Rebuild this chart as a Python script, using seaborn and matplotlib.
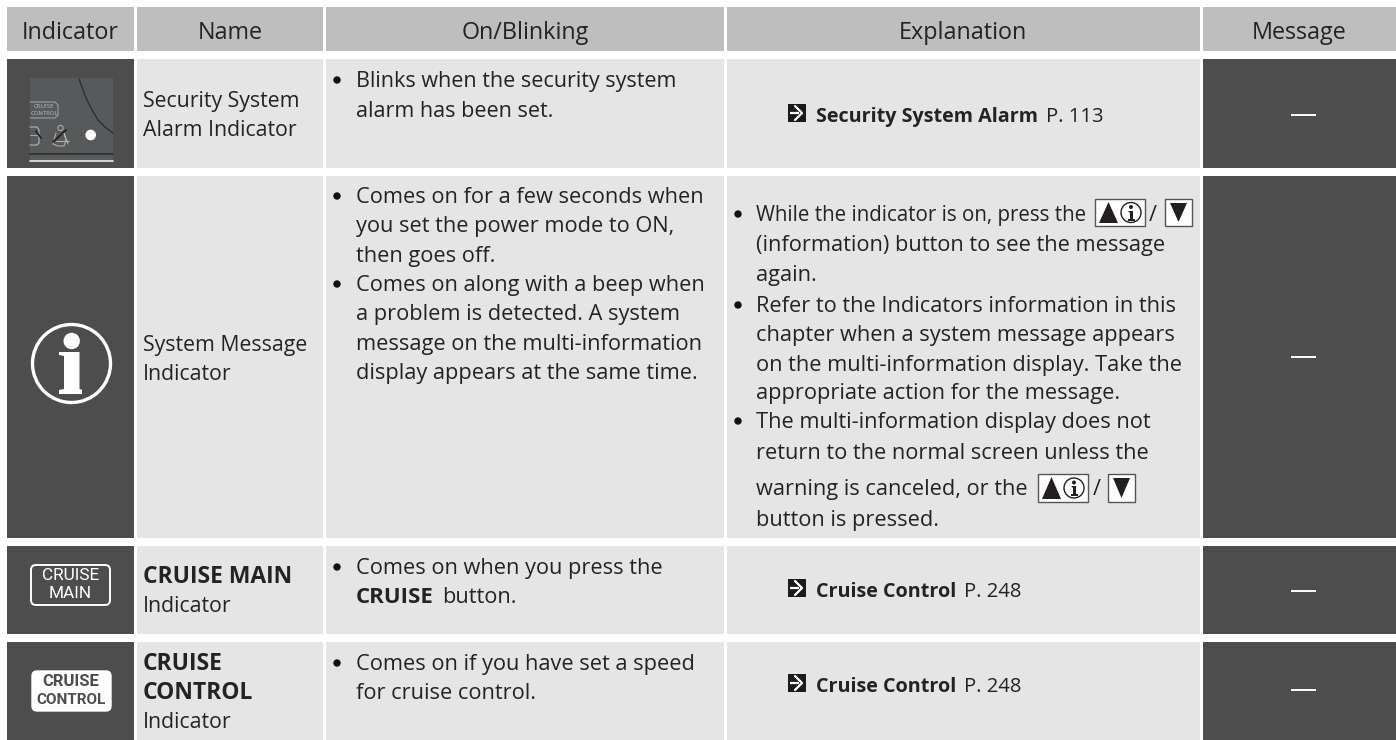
import numpy as np
import matplotlib
matplotlib.use("Agg")
import matplotlib.pyplot as plt
from matplotlib.colors import ListedColormap
from matplotlib.patches import Rectangle, Circle, FancyBboxPatch, Polygon
import seaborn as sns

# Table content
header_labels = ["Indicator", "Name", "On/Blinking", "Explanation", "Message"]
name_lines = [
    [("Security System", False), ("Alarm Indicator", False)],
    [("System Message", False), ("Indicator", False)],
    [("CRUISE MAIN", True), ("Indicator", False)],
    [("CRUISE", True), ("CONTROL", True), ("Indicator", False)],
]
blink_row1 = ["Blinks when the security system", "alarm has been set."]
blink_row2a = ["Comes on for a few seconds when", "you set the power mode to ON,", "then goes off."]
blink_row2b = ["Comes on along with a beep when", "a problem is detected. A system",
              "message on the multi-information", "display appears at the same time."]
blink_row4 = ["Comes on if you have set a speed", "for cruise control."]
expl_a = ["(information) button to see the message", "again."]
expl_b = ["Refer to the Indicators information in this", "chapter when a system message appears",
          "on the multi-information display. Take the", "appropriate action for the message."]
expl_c = ["The multi-information display does not", "return to the normal screen unless the",
          "warning is canceled, or the", "button is pressed."]
links = [("Security System Alarm", "P. 113"), ("Cruise Control", "P. 248"), ("Cruise Control", "P. 248")]

# Cell shades of the table (0 white gap, 1 header, 2 light, 3 dark)
col_widths = [7, 127, 3, 186, 3, 398, 3, 473, 3, 193]
row_heights = [7, 44, 8, 109, 8, 362, 8, 88, 8, 98]
body_row = [0, 3, 0, 2, 0, 2, 0, 2, 0, 3]
head_row = [0, 1, 0, 1, 0, 1, 0, 1, 0, 1]
gap_row = [0] * 10
shades = np.array([gap_row, head_row, gap_row, body_row, gap_row, body_row,
                   gap_row, body_row, gap_row, body_row])
grid = np.repeat(np.repeat(shades, row_heights, axis=0), col_widths, axis=1)

TXT = "#242223"
DARK = "#4d4d4d"
FONT = "Open Sans"

sns.set_theme(style="white")
plt.rcParams["font.family"] = [FONT, "DejaVu Sans"]

fig = plt.figure(figsize=(13.96, 7.40), dpi=100)
ax = fig.add_axes([0, 0, 1, 1])
sns.heatmap(grid, ax=ax, cmap=ListedColormap(["#ffffff", "#bebebe", "#e5e5e5", DARK]),
            vmin=0, vmax=3, cbar=False, xticklabels=False, yticklabels=False)
ax.set_xlim(0, 1396)
ax.set_ylim(740, 0)
ax.axis("off")


def put(x, y, s, bold=False, ha="left", size=15.7, color=TXT):
    return ax.text(x, y, s, ha=ha, va="baseline", fontsize=size, color=color,
                   fontweight="bold" if bold else "normal")


def bullet(x, y):
    ax.add_patch(Circle((x, y), 3.7, color="#111111", lw=0))


def link(x, y, bold_part, rest):
    # black square with white arrow, then the bold reference and the page
    ax.add_patch(Rectangle((x, y - 9), 18, 18, color="#1c1a1b", lw=0))
    ax.plot([x + 2, x + 11], [y, y], color="white", lw=1.6, solid_capstyle="butt")
    ax.plot([x + 7, x + 14, x + 7], [y - 7, y, y + 7], color="white", lw=1.6)
    t = put(x + 28, y + 9, bold_part, bold=True, size=14.2)
    fig.canvas.draw()
    end = t.get_window_extent().x1
    put(end + 8, y + 9, rest, size=14.6)


def button_up(x, y0, y1):
    ax.add_patch(Rectangle((x, y0), 50, y1 - y0, fc="white", ec="#555555", lw=1))
    ax.add_patch(Polygon([[x + 4, y1 - 3], [x + 23, y1 - 3], [x + 13.5, y0 + 3]], color="#231f20", lw=0))
    cx, cy = x + 36, (y0 + y1) / 2
    ax.add_patch(Circle((cx, cy), 10, fc="white", ec="#231f20", lw=1))
    ax.add_patch(Circle((cx, cy - 5.5), 2, color="#231f20", lw=0))
    ax.add_patch(Polygon([[cx - 3, cy - 2], [cx + 2, cy - 2], [cx + 2, cy + 6], [cx + 3.5, cy + 6],
                          [cx + 3.5, cy + 8], [cx - 3.5, cy + 8], [cx - 3.5, cy + 6], [cx - 1.5, cy + 6],
                          [cx - 1.5, cy]], color="#231f20", lw=0))


def button_down(x, y0, y1):
    ax.add_patch(Rectangle((x, y0), 27, y1 - y0, fc="white", ec="#555555", lw=1))
    ax.add_patch(Polygon([[x + 5, y0 + 4], [x + 22, y0 + 4], [x + 13.5, y1 - 4]], color="#231f20", lw=0))


# Header
for label, cx in zip(header_labels, [70.5, 230, 525, 963, 1299.5]):
    put(cx, 39, label, ha="center", size=16.8)

# Name column
name_ys = [[107, 136], [351, 380], [583, 612], [670, 699, 728]]
for lines, ys in zip(name_lines, name_ys):
    for (s, bold), y in zip(lines, ys):
        put(143, y, s, bold=bold, size=16.5 if bold else 15.3)

# On/Blinking column
put(356, 87, blink_row1[0], size=15.5)
put(356, 117, blink_row1[1], size=15.5)
bullet(337, 80)
for y, s in zip([203, 232, 262], blink_row2a):
    put(356, y, s)
bullet(337, 196)
for y, s in zip([291, 320, 350, 379], blink_row2b):
    put(356, y, s)
bullet(337, 284)
put(356, 574, "Comes on when you press the")
t = put(356, 603, "CRUISE", bold=True, size=16)
fig.canvas.draw()
put(t.get_window_extent().x1 + 8, 603, "button.")
bullet(337, 567)
for y, s in zip([670, 699], blink_row4):
    put(356, y, s)
bullet(337, 663)

# Explanation column
put(756, 221, "While the indicator is on, press the", size=14.8)
bullet(738, 214)
for y, s in zip([251, 281], expl_a):
    put(756, y, s, size=15.65)
for y, s in zip([312, 341, 371, 399], expl_b):
    put(756, y, s, size=15.65)
bullet(738, 305)
for y, s in zip([428, 459, 495, 526], expl_c):
    put(756, y, s, size=15.65)
bullet(738, 421)
for y, (b, r) in zip([113, 588, 683], links):
    link(788, y, b, r)

# inline button glyphs
button_up(1095, 199, 226)
put(1153, 221, "/", ha="center")
button_down(1165, 199, 226)
button_up(1038, 474, 502)
put(1097, 495, "/", ha="center")
button_down(1108, 474, 502)

# Message column
for y in [115, 357, 591, 690]:
    ax.plot([1291, 1316], [y, y], color="white", lw=1.4, solid_capstyle="butt")

# Security indicator thumbnail
ax.add_patch(Rectangle((30, 78), 83, 84, color="#58595b", lw=0))
ax.plot([79, 83, 87, 92, 98, 105, 113], [79, 90, 100, 110, 120, 127, 133], color="#2b2b2b", lw=0.9)
ax.plot([30, 55, 58, 58, 55, 30], [102, 102, 105, 115, 118, 118], color="#b5b5b5", lw=0.6)
ax.text(44, 106.5, "CRUISE", ha="center", va="center", fontsize=4.4, color="#bdbdbd")
ax.text(44, 113.5, "CONTROL", ha="center", va="center", fontsize=4.2, color="#bdbdbd")
# door and seat belt doodles
ax.plot([30, 37, 39, 39, 37, 30], [127, 127, 130, 143, 145, 145], color="#b5b5b5", lw=0.8)
ax.plot([30, 37], [135, 135], color="#b5b5b5", lw=0.6)
ax.plot([36, 41], [131, 138], color="#1f1f1f", lw=1.2)
ax.add_patch(Circle((60.5, 128), 2.6, fc="none", ec="#b5b5b5", lw=0.7))
ax.plot([56, 53, 58, 64, 66, 64, 68], [133, 144, 146, 146, 140, 133, 144], color="#b5b5b5", lw=0.7)
ax.plot([53, 66], [142, 130], color="#1f1f1f", lw=1.2)
ax.plot([56, 69], [141, 141], color="#b5b5b5", lw=0.7)
ax.add_patch(Circle((90.7, 135), 5.3, color="white", lw=0))
ax.plot([30, 113], [154, 154], color="#333333", lw=1.3)
ax.plot([30, 113], [161, 161], color="#e8e8e8", lw=1.2)

# Info icon
ax.add_patch(Circle((71.5, 363.5), 39, fc="none", ec="white", lw=2.4))
ax.add_patch(Circle((71.7, 341), 8.2, color="white", lw=0))
ax.add_patch(Polygon([[59, 352], [79.5, 352], [79.5, 389], [82, 390], [82, 394], [59, 394], [59, 390],
                      [64, 389], [64, 356], [59, 355]], color="white", lw=0))

# CRUISE MAIN icon
ax.add_patch(FancyBboxPatch((31, 565), 79, 40, boxstyle="round,pad=0,rounding_size=5",
                            fc="none", ec="white", lw=1.4))
ax.text(70.5, 576, "CRUISE", family="Roboto", ha="center", va="center", fontsize=12.4, color="white")
ax.text(70.5, 594, "MAIN", family="Roboto", ha="center", va="center", fontsize=12.4, color="white")

# CRUISE CONTROL icon
ax.add_patch(FancyBboxPatch((32, 671), 79, 40, boxstyle="round,pad=0,rounding_size=5", fc="white", ec="white", lw=1))
ax.text(71, 682, "CRUISE", family="Roboto", ha="center", va="center", fontsize=12, fontweight="bold", color=DARK)
ax.text(71, 700, "CONTROL", family="Roboto", ha="center", va="center", fontsize=11, fontweight="bold", color=DARK)

fig.savefig("out.png", dpi=100)
